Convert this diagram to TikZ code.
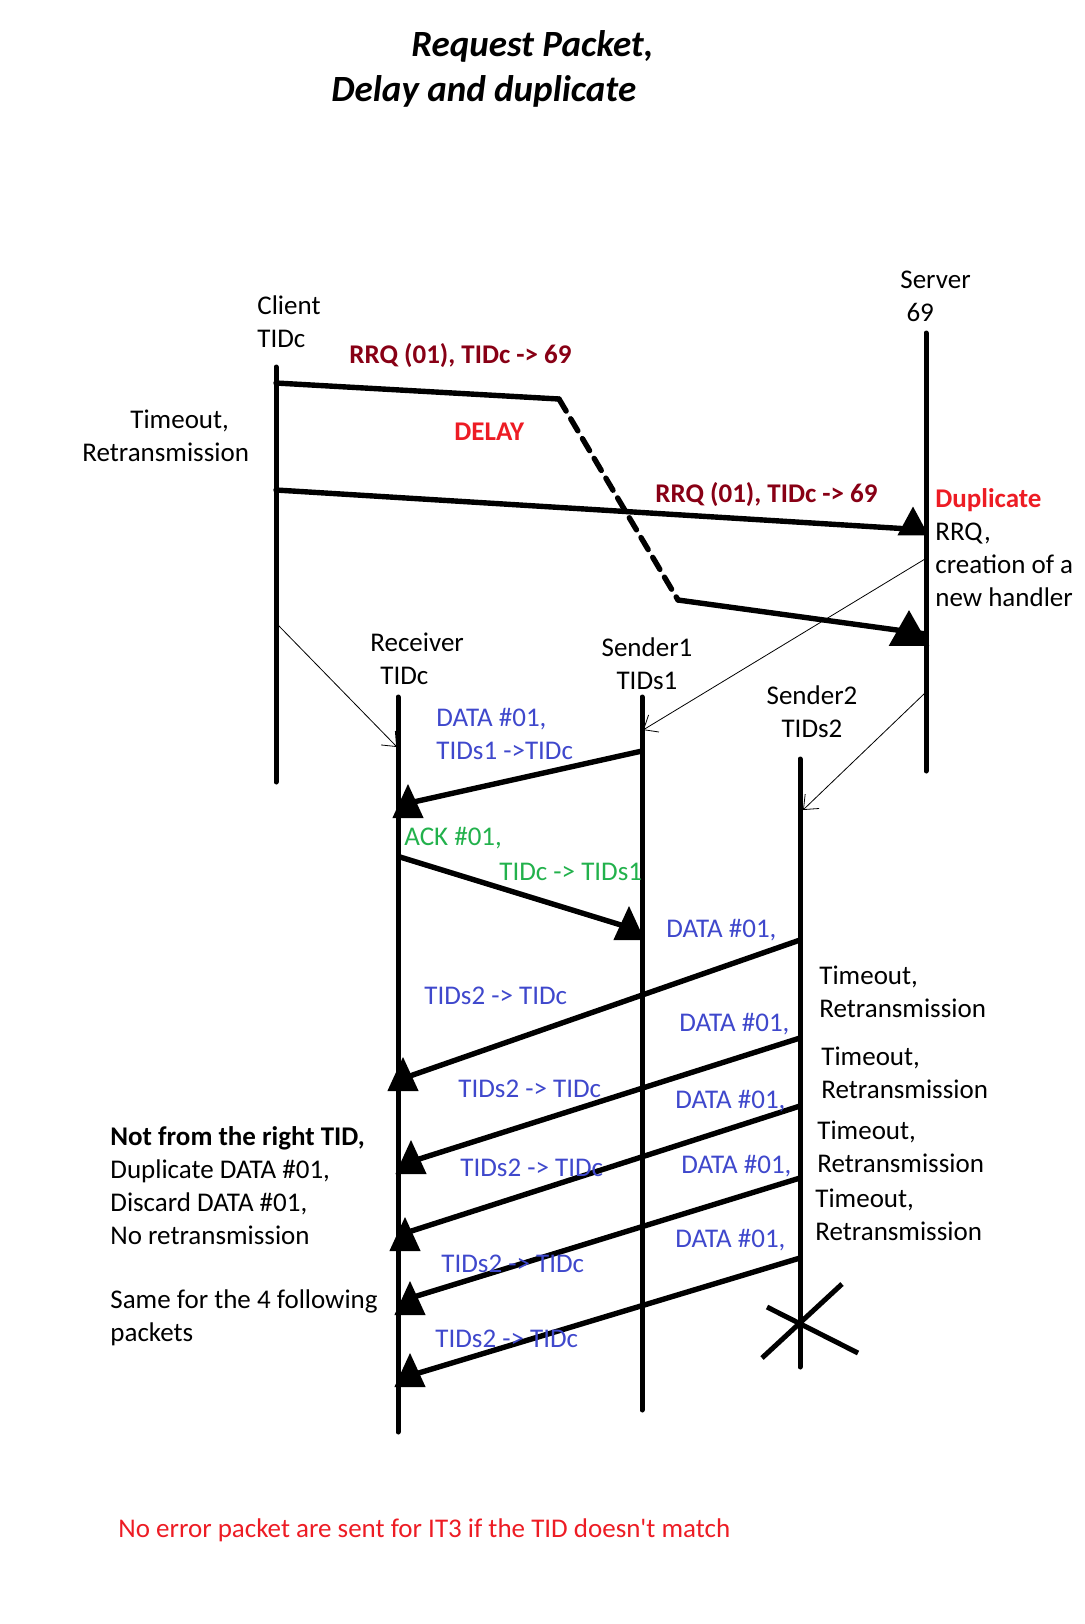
\documentclass[tikz,border=0pt]{standalone}
\usepackage{fontspec}
\setmainfont{Carlito}
\usetikzlibrary{arrows.meta}
\definecolor{pblue}{RGB}{63,72,204}
\definecolor{pgreen}{RGB}{34,177,76}
\definecolor{pred}{RGB}{237,28,36}
\definecolor{pdarkred}{RGB}{136,0,21}
\newcommand{\txtsize}{\fontsize{13.5}{16.5}\selectfont}

\begin{document}
\begin{tikzpicture}[
    x=0.5pt, y=-0.5pt,
    txt/.style={inner sep=0pt, anchor=west, align=left, font=\txtsize},
    ctxt/.style={txt, anchor=center, align=center},
    rrq/.style={txt, font=\txtsize\bfseries, text=pdarkred},
    life/.style={line width=2.5pt, line cap=round},
    msg/.style={line width=2.7pt, line cap=round},
    handler/.style={thin, -{Straight Barb[length=6pt,width=10pt]}},
    tri/.pic={\fill (-7.8pt,-8.5pt) -- (7.8pt,-8.5pt) -- (0pt,8.5pt) -- cycle;}
]
\useasboundingbox (0,0) rectangle (1084,1624);

% Titulo
\node[txt, font={\fontsize{18.5}{22}\selectfont\bfseries\itshape}] (title1) at (411,46) {Request Packet,};
\node[txt, font={\fontsize{18.5}{22}\selectfont\bfseries\itshape}] (title2) at (331,91) {Delay and duplicate};

% Lineas de vida
\coordinate (cl-top) at (276,367); \coordinate (cl-bot) at (276,782);
\coordinate (sv-top) at (926,333); \coordinate (sv-bot) at (926,771);
\coordinate (rc-top) at (398,697); \coordinate (rc-bot) at (398,1432);
\coordinate (s1-top) at (642,697); \coordinate (s1-bot) at (642,1410);
\coordinate (s2-top) at (800,759); \coordinate (s2-bot) at (800,1367);

\draw[life] (cl-top) -- (cl-bot);
\draw[life] (sv-top) -- (sv-bot);
\draw[life] (rc-top) -- (rc-bot);
\draw[life] (s1-top) -- (s1-bot);
\draw[life] (s2-top) -- (s2-bot);

\node[txt] (client) at (257,322) {Client\\TIDc};
\node[txt] (server) at (900,296) {Server\\~69};
\node[txt] (receiver) at (370,659) {Receiver\\\hspace*{5pt}TIDc};
\node[ctxt] (sender1) at (647,664) {Sender1\\TIDs1};
\node[ctxt] (sender2) at (812,712) {Sender2\\TIDs2};

% RRQ retardada
\coordinate (m1a) at (276,383);
\coordinate (m1b) at (559,399);
\coordinate (m1c) at (678,600);
\coordinate (m1d) at (926,634);
\draw[msg] (m1a) -- (m1b);
\draw[msg, dash pattern=on 7pt off 4.5pt] (m1b) -- (m1c);
\draw[msg] (m1c) -- (m1d);
\pic[xscale=1.3, yscale=1.05] at (909,628) {tri};
\node[rrq] (rrq1) at (349,356) {RRQ (01), TIDc -> 69};
\node[txt, font=\txtsize\bfseries, text=pred] (delay) at (454,432) {DELAY};

% RRQ retransmitida
\coordinate (m2a) at (276,490);
\coordinate (m2b) at (926,530);
\draw[msg] (m2a) -- (m2b);
\pic[yscale=0.85] at (913,521) {tri};
\node[rrq] (rrq2) at (655,495) {RRQ (01), TIDc -> 69};
\node[txt] (cl-retx) at (82,436) {\hspace*{24pt}Timeout,\\Retransmission};
\node[txt] (dup) at (935,548) {\textcolor{pred}{\bfseries Duplicate}\\RRQ,\\creation of a\\new handler};

% Creacion de handlers
\coordinate (h1a) at (278,625); \coordinate (h1b) at (397,747);
\coordinate (h2a) at (925,559); \coordinate (h2b) at (643,730);
\coordinate (h3a) at (925,693); \coordinate (h3b) at (803,810);
\draw[handler] (h1a) -- (h1b);
\draw[handler] (h2a) -- (h2b);
\draw[handler] (h3a) -- (h3b);

% DATA y ACK con Sender1
\coordinate (d0s) at (642,751); \coordinate (d0r) at (409,803);
\draw[msg] (d0s) -- (d0r);
\pic at (408,801) {tri};
\node[txt, text=pblue] (data0) at (436,734) {DATA \#01,\\TIDs1 ->TIDc};

\coordinate (ack-r) at (400,857); \coordinate (ack-s) at (621,925);
\draw[msg] (ack-r) -- (ack-s);
\pic at (629,923) {tri};
\node[txt, text=pgreen] (ack1) at (404,838) {ACK \#01,};
\node[txt, text=pgreen] (ack2) at (499,872) {TIDc -> TIDs1};

% DATA duplicados desde Sender2
\coordinate (d1s) at (800,940); \coordinate (d1r) at (407,1077);
\draw[msg] (d1s) -- (d1r);
\pic at (403,1074) {tri};
\node[txt, text=pblue] (data1) at (666,930) {DATA \#01,};
\node[txt, text=pblue] (tid1) at (424,996) {TIDs2 -> TIDc};

\coordinate (d2s) at (800,1038); \coordinate (d2r) at (416,1160);
\draw[msg] (d2s) -- (d2r);
\pic at (411,1157) {tri};
\node[txt, text=pblue] (data2) at (679,1024) {DATA \#01,};
\node[txt, text=pblue] (tid2) at (458,1089) {TIDs2 -> TIDc};

\coordinate (d3s) at (800,1106); \coordinate (d3r) at (399,1235);
\draw[msg] (d3s) -- (d3r);
\pic at (405,1234) {tri};
\node[txt, text=pblue] (data3) at (675,1101) {DATA \#01,};
\node[txt, text=pblue] (tid3) at (460,1168) {TIDs2 -> TIDc};

\coordinate (d4s) at (800,1178); \coordinate (d4r) at (407,1299);
\draw[msg] (d4s) -- (d4r);
\pic at (410,1298) {tri};
\node[txt, text=pblue] (data4) at (681,1166) {DATA \#01,};
\node[txt, text=pblue] (tid4) at (441,1264) {TIDs2 -> TIDc};

\coordinate (d5s) at (800,1258); \coordinate (d5r) at (412,1375);
\draw[msg] (d5s) -- (d5r);
\pic at (410,1370) {tri};
\node[txt, text=pblue] (data5) at (675,1240) {DATA \#01,};
\node[txt, text=pblue] (tid5) at (435,1339) {TIDs2 -> TIDc};

% Timeouts de Sender2
\node[txt] (retx1) at (819,992) {Timeout,\\Retransmission};
\node[txt] (retx2) at (821,1073) {Timeout,\\Retransmission};
\node[txt] (retx3) at (817,1147) {Timeout,\\Retransmission};
\node[txt] (retx4) at (815,1215) {Timeout,\\Retransmission};

% Fin de Sender2
\draw[line width=2.5pt] (762,1358) -- (842,1284);
\draw[line width=2.5pt] (767,1307) -- (858,1353);

% Notas
\node[txt] (note1) at (110,1186) {\textbf{Not from the right TID,}\\Duplicate DATA \#01,\\Discard DATA \#01,\\No retransmission};
\node[txt] (note2) at (110,1318) {Same for the 4 following\\packets};
\node[txt, text=pred] (footer) at (118,1530) {No error packet are sent for IT3 if the TID doesn\textquotesingle t match};

\end{tikzpicture}
\end{document}
